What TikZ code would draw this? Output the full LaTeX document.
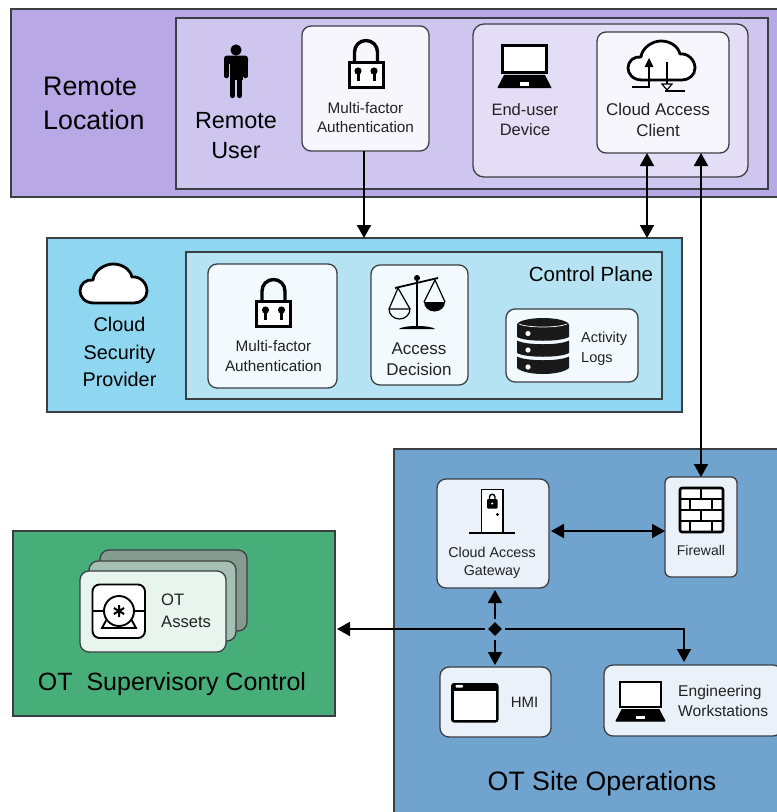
\documentclass[tikz,border=0pt]{standalone}
\usepackage{fontspec}
\setmainfont{Liberation Sans}
\usetikzlibrary{arrows.meta,shapes.geometric}
\definecolor{purA}{HTML}{B8A8E5}
\definecolor{purB}{HTML}{CFC6F0}
\definecolor{purC}{HTML}{E3DDF6}
\definecolor{purD}{HTML}{F8F6FD}
\definecolor{bluA}{HTML}{8FD6F0}
\definecolor{bluB}{HTML}{B5E3F3}
\definecolor{bluD}{HTML}{F2FAFD}
\definecolor{sitA}{HTML}{70A3CD}
\definecolor{sitD}{HTML}{EAF1F8}
\definecolor{grnA}{HTML}{47AE7A}
\definecolor{grnB}{HTML}{869B90}
\definecolor{grnC}{HTML}{A5BFB3}
\definecolor{grnD}{HTML}{E8F4EE}
\definecolor{edge}{HTML}{3A3F44}
\definecolor{ink}{HTML}{222222}
\newcommand{\bx}[6]{\node[#1,minimum width={(#5-#3)*1pt},minimum height={(#6-#4)*1pt}] (#2) at ({(#3+#5)/2},{(#4+#6)/2}) {};}
\newcommand{\fz}[2]{\fontsize{#1}{#2}\selectfont}
\tikzset{
  x=1pt,y=-1pt,
  area/.style={draw=edge,line width=1.3pt,inner sep=0pt,outer sep=0pt},
  card/.style={draw=edge,line width=1.3pt,rounded corners=9pt,inner sep=0pt,outer sep=0pt},
  txt/.style={text=ink,inner sep=0pt,align=center},
  arr/.style={line width=1.9pt,draw=black,-{Triangle[length=13pt,width=14pt]}},
  dbl/.style={line width=1.9pt,draw=black,{Triangle[length=13pt,width=14pt]}-{Triangle[length=13pt,width=14pt]}},
  lockicon/.pic={
    \draw[line width=3.4pt] (-11.5,24) -- (-11.5,12) arc[start angle=180,end angle=360,radius=11.5] -- (11.5,24);
    \draw[line width=3pt,fill=white] (-17,22.5) rectangle (17,47.5);
    \fill (-8,31) circle[radius=3.6]; \fill (8,31) circle[radius=3.6];
    \draw[line width=3pt] (-8,31) -- (-8,41); \draw[line width=3pt] (8,31) -- (8,41);
  },
  laptopicon/.pic={
    \draw[line width=2.4pt,fill=white] (4,1) rectangle (45,26);
    \fill[line join=round,draw=black,line width=1pt] (6,28.5) -- (43,28.5) -- (49,40) -- (0,40) -- cycle;
    \fill[white] (20,35) rectangle (29,38);
  },
  cloudicon/.pic={
    \draw[line width=2.8pt,line join=round,fill=white] (14,39) .. controls (5,39) and (0,33) .. (0,27) .. controls (0,20) and (6,15) .. (13,16) .. controls (14,7) and (24,0) .. (33,0) .. controls (42,0) and (50,5) .. (52,13) .. controls (60,12) and (67,19) .. (67,27) .. controls (67,34) and (61,39) .. (54,39) -- cycle;
  },
}
\begin{document}
\begin{tikzpicture}
\useasboundingbox (0,0) rectangle (777,812);
\fill[white] (0,0) rectangle (777,812);
% ---- areas
\bx{area,fill=purA}{remote}{11}{9}{782}{197}
\bx{area,fill=purB}{remoteIn}{176}{18}{768}{189}
\bx{card,fill=purC,rounded corners=11pt}{device}{473}{24}{748}{177}
\bx{card,fill=purD}{mfaA}{302}{26}{429}{151}
\bx{card,fill=purD}{client}{597}{32}{729}{153}
\bx{area,fill=bluA}{csp}{47}{238}{682}{412}
\bx{area,fill=bluB}{cplane}{186}{252}{662}{399}
\bx{card,fill=bluD}{mfaB}{208}{264}{337}{388}
\bx{card,fill=bluD}{decision}{371}{265}{468}{385}
\bx{card,fill=bluD}{logs}{506}{309}{638}{382}
\bx{area,fill=sitA}{site}{394}{449}{782}{820}
\bx{card,fill=sitD}{gateway}{437}{479}{549}{588}
\bx{card,fill=sitD,rounded corners=6pt}{firewall}{665}{477}{737}{577}
\bx{card,fill=sitD}{hmi}{440}{667}{551}{737}
\bx{card,fill=sitD}{eng}{604}{665}{782}{736}
\bx{area,fill=grnA}{green}{13}{531}{335}{716}
\bx{card,fill=grnB}{assetC}{100}{550}{247}{631}
\bx{card,fill=grnC}{assetB}{89}{561}{236}{641}
\bx{card,fill=grnD}{assetA}{80}{571}{226}{652}
% ---- person
\fill (236,50) circle[radius=5.6];
\fill[rounded corners=3pt] (224,55.5) rectangle (248,64);
\fill (229.5,58) rectangle (242.5,80);
\draw[line width=4.6pt,line cap=round] (226.3,60) -- (226.3,76) (245.7,60) -- (245.7,76);
\draw[line width=5.4pt,line cap=round] (232.4,78) -- (232.4,95.5) (239.6,78) -- (239.6,95.5);
% ---- locks
\pic at (366,40) {lockicon};
\pic at (273.5,279) {lockicon};
% ---- laptops
\pic[scale=1.08] at (498,44.5) {laptopicon};
\pic at (616,681) {laptopicon};
% ---- clouds
\pic at (628,41) {cloudicon};
\pic at (80,264) {cloudicon};
\draw[line width=1.5pt] (632,87) -- (649,87) -- (649,66);
\fill (649,58) -- (653.5,67) -- (644.5,67) -- cycle;
\draw[line width=1.5pt] (667,62) -- (667,84);
\draw[line width=1.2pt] (662,84) -- (672,84) -- (667,90) -- cycle;
\draw[line width=1.5pt] (665,91) -- (685,91);
% ---- scales
\draw[line width=2.2pt] (417,275) -- (417,326);
\fill (417,278) circle[radius=3];
\draw[line width=1.8pt] (395,288) -- (438,278);
\fill (399,329) .. controls (403,325) and (431,325) .. (435,329) -- cycle;
\draw[line width=1.2pt] (389,309) -- (398,288) -- (410,309);
\draw[line width=1.2pt] (389,309) -- (410,309) arc[start angle=0,end angle=180,x radius=10.5,y radius=10];
\draw[line width=1.2pt] (424,302) -- (435,280) -- (445,302);
\fill (424,302) -- (445,302) arc[start angle=0,end angle=180,x radius=10.5,y radius=9.5] -- cycle;
% ---- database
\fill[black!90] (517,325) arc[start angle=180,end angle=360,x radius=26,y radius=7] -- (569,337) .. controls (560,342) and (526,342) .. (517,337) -- cycle;
\fill[black!90] (517,340.5) .. controls (526,345.5) and (560,345.5) .. (569,340.5) -- (569,353) .. controls (560,358) and (526,358) .. (517,353) -- cycle;
\fill[black!90] (517,356.5) .. controls (526,361.5) and (560,361.5) .. (569,356.5) -- (569,368) .. controls (560,376) and (526,376) .. (517,368) -- cycle;
\draw[white,line width=.7pt] (519,324) .. controls (528,328) and (558,328) .. (567,324);
\fill[white] (528,333.5) circle[radius=2.6] (528,350) circle[radius=2.6] (528,367) circle[radius=2.6];
% ---- door
\draw[line width=1.9pt,fill=white] (481.5,533) -- (481.5,489.5) -- (503,489.5) -- (503,533);
\draw[line width=1.9pt] (469,533) -- (515,533);
\fill[rounded corners=1pt] (487,499) rectangle (497.5,508.5);
\draw[line width=1.4pt] (489.5,499) -- (489.5,497) arc[start angle=180,end angle=360,radius=2.75] -- (495,499);
\fill[white] (492.2,503.5) circle[radius=1.1];
\fill (497.5,514.5) circle[radius=1.6];
% ---- firewall bricks
\draw[line width=2.6pt,rounded corners=2pt,fill=white] (680,488) rectangle (723,532);
\draw[line width=2.6pt] (680,499) -- (723,499) (680,510) -- (723,510) (680,521) -- (723,521)
  (701,488) -- (701,499) (701,510) -- (701,521)
  (690,499) -- (690,510) (712,499) -- (712,510) (690,521) -- (690,532) (712,521) -- (712,532);
% ---- window
\fill[rounded corners=3pt] (451,683) rectangle (498.5,722.5);
\fill[white] (454,690.5) rectangle (495.5,719.5);
\fill[white,rounded corners=1pt] (455.5,684.8) rectangle (463,687.6);
% ---- OT asset
\draw[line width=1.9pt,fill=white,rounded corners=7pt] (92.5,584.5) rectangle (145,638);
\draw[line width=1.9pt,fill=white] (102,628) -- (108,617) -- (130,617) -- (136,628) -- cycle;
\draw[line width=1.5pt] (92.5,611) -- (104,611) (134,611) -- (145,611);
\draw[line width=1.9pt,fill=white] (119,611) circle[radius=15];
\draw[line width=2pt] (119,605) -- (119,617) (113.8,608) -- (124.2,614) (113.8,614) -- (124.2,608);
% ---- junction
\node[diamond,fill=black,inner sep=0pt,minimum width=14pt,minimum height=14pt] (junction) at (495,629) {};
% ---- connectors
\draw[arr] (mfaA.south -| 364,0) -- (364,238 |- csp.north);
\draw[dbl] ([xshift=-16pt]client.south) -- ([xshift=-16pt]client.south |- csp.north);
\draw[dbl] (firewall.north |- client.south) -- (firewall.north);
\draw[dbl,shorten <=2pt] (gateway.east |- 0,531) -- (firewall.west |- 0,531);
\draw[arr,shorten <=3pt,shorten >=2pt] (junction.north) -- (junction.north |- gateway.south);
\draw[arr,shorten <=4pt,shorten >=2pt] (junction.south) -- (junction.south |- hmi.north);
\draw[arr,shorten <=3pt,shorten >=2pt] (junction.west) -- (junction.west -| green.east);
\draw[arr,shorten <=3pt,shorten >=3pt] (junction.east) -| ([xshift=-9pt]eng.north);
% ---- text
\node[anchor=west,align=left,inner sep=0pt,text=black,font=\fz{26.8}{34}] (t1) at (43,103.5) {Remote\\Location};
\node[txt,text=black,font=\fz{23.4}{30}] (t2) at (236,135.5) {Remote\\User};
\node[txt,font=\fz{15.3}{19.5}] (t3) at (365.5,117.5) {Multi-factor\\Authentication};
\node[txt,font=\fz{16.5}{20}] (t4) at (525,120) {End-user\\Device};
\node[txt,font=\fz{17}{21}] (t5) at (658,119.5) {Cloud Access\\Client};
\node[txt,text=black,font=\fz{19.8}{27.5}] (t6) at (119.5,352) {Cloud\\Security\\Provider};
\node[txt,text=black,font=\fz{20.5}{24}] (t7) at (591,274.5) {Control Plane};
\node[txt,font=\fz{15.3}{20}] (t8) at (273.5,356) {Multi-factor\\Authentication};
\node[txt,font=\fz{17}{21}] (t9) at (419,359.5) {Access\\Decision};
\node[anchor=west,align=left,inner sep=0pt,text=ink,font=\fz{14.5}{19.5}] (t10) at (581,348.5) {Activity\\Logs};
\node[txt,font=\fz{14.3}{18}] (t11) at (492,562.5) {Cloud Access\\Gateway};
\node[txt,font=\fz{14}{18}] (t12) at (701,550) {Firewall};
\node[txt,font=\fz{15}{18}] (t13) at (524.5,702) {HMI};
\node[anchor=west,align=left,inner sep=0pt,text=ink,font=\fz{15.6}{19.5}] (t14) at (678,701) {Engineering\\Workstations};
\node[anchor=west,align=left,inner sep=0pt,text=ink,font=\fz{16.6}{22}] (t15) at (161,611) {OT\\Assets};
\node[txt,text=black,font=\fz{25}{30}] (t16) at (172,684) {OT\ \ Supervisory Control};
\node[txt,text=black,font=\fz{26.7}{30}] (t17) at (602,784) {OT Site Operations};
\end{tikzpicture}
\end{document}
